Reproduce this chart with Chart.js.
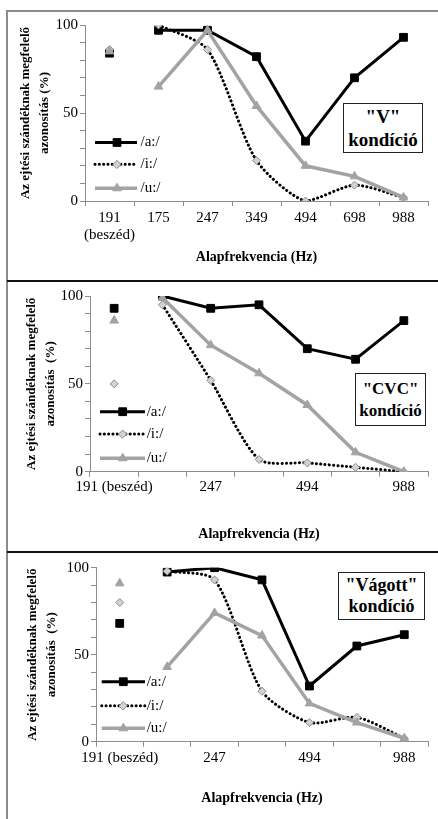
<!DOCTYPE html>
<html lang="hu">
<head>
<meta charset="utf-8">
<title>Azonosítás és alapfrekvencia</title>
<script src="https://cdn.jsdelivr.net/npm/chart.js@4.4.1/dist/chart.umd.min.js"></script>
<style>
  html, body { margin: 0; padding: 0; background: #fff; }
  #page { position: relative; width: 438px; height: 819px; overflow: hidden; background: #fff; }
  .rule { position: absolute; }
  #frameLeft { left: 6px; top: 10px; width: 2px; height: 809px; background: #8c8c8c; }
  #frameTop { left: 6px; top: 10px; width: 432px; height: 1.5px; background: #8c8c8c; }
  .sep { left: 7px; width: 431px; height: 2px; background: #111; }
  canvas { position: absolute; left: 0; }
  .cond {
    position: absolute; box-sizing: border-box; border: 1.5px solid #222; background: #fff;
    font-family: 'Liberation Serif', 'Times New Roman', serif; font-weight: bold; color: #000;
    text-align: center; display: flex; flex-direction: column; justify-content: center;
  }
</style>
</head>
<body>
<div id="page">
  <div class="rule" id="frameLeft"></div>
  <div class="rule" id="frameTop"></div>
  <div class="rule sep" style="top:280px"></div>
  <div class="rule sep" style="top:551px"></div>

  <canvas id="chartV" width="438" height="268" style="top:12px"></canvas>
  <canvas id="chartCVC" width="438" height="268" style="top:283px"></canvas>
  <canvas id="chartCut" width="438" height="265" style="top:554px"></canvas>

  <div class="cond" style="left:343px; top:103px; width:80px; height:50px; font-size:19px; line-height:23.5px;">
    <div>"V"</div><div>kondíció</div>
  </div>
  <div class="cond" style="left:355px; top:373px; width:71px; height:53px; font-size:17px; line-height:21.5px;">
    <div>"CVC"</div><div>kondíció</div>
  </div>
  <div class="cond" style="left:338px; top:572px; width:87px; height:48px; font-size:18px; line-height:21.5px;">
    <div>"Vágott"</div><div>kondíció</div>
  </div>
</div>

<script>
// F0 categories (first one is the natural speech reference)
const categories = ['191 (beszéd)', '175', '247', '349', '494', '698', '988'];
const seriesNames = ['/a:/', '/i:/', '/u:/'];

// x tick labels per panel
const ticksFull = [['191', '(beszéd)'], '175', '247', '349', '494', '698', '988'];
const ticksSparse = ['191 (beszéd)', '', '247', '', '494', '', '988'];
const yTickLabels = [0, 50, 100];

// "V" condition, values for 175..988 Hz
const V_a = [97, 97, 82, 34, 70, 93];
const V_i = [100, 86, 23, 0, 9, 2];
const V_u = [65, 97, 54, 20, 14, 2];
const V_speech = [84, 86, 85];     // /a:/, /i:/, /u:/ at 191 Hz speech

// "CVC" condition
const CVC_a = [100, 93, 95, 70, 64, 86];
const CVC_i = [95, 52, 7, 5, 2.5, 0];
const CVC_u = [99, 72, 56, 38, 11, 0];
const CVC_speech = [93, 50, 86];

// "Vágott" condition
const CUT_a = [97.5, 100, 93, 32, 55, 61.5];
const CUT_i = [98, 93, 29, 11, 14, 2];
const CUT_u = [43, 74, 61, 22, 11, 2];
const CUT_speech = [68, 80, 91];

Chart.defaults.font.family = "'Liberation Serif', 'Times New Roman', serif";
Chart.defaults.color = '#000';

const AXIS_GREY = '#8c8c8c';

const styles = [
  { borderColor: '#000', borderWidth: 3, pointStyle: 'rect', pointRadius: 5.5,
    pointBackgroundColor: '#000', pointBorderColor: '#000', pointBorderWidth: 1, order: 3 },
  { borderColor: '#000', borderWidth: 3, borderDash: [0.1, 4.2], borderCapStyle: 'round', tension: 0.25,
    pointStyle: 'rectRot', pointRadius: 4, pointBackgroundColor: '#d2d2d2', pointBorderColor: '#8c8c8c',
    pointBorderWidth: 1, order: 2 },
  { borderColor: '#a3a3a3', borderWidth: 3.5, pointStyle: 'triangle', pointRadius: 5,
    pointBackgroundColor: '#a3a3a3', pointBorderColor: '#a3a3a3', pointBorderWidth: 1, order: 1 }
];

// legend sample positions inside each plot
const legendPos = {
  chartV:   { x0: 95,    x1: 137, xm: 117,   xt: 140.5, rows: [130.5, 152.3, 176.3] },
  chartCVC: { x0: 100,   x1: 145, xm: 122.7, xt: 146.7, rows: [128.7, 151, 175.3] },
  chartCut: { x0: 101.7, x1: 145, xm: 123.3, xt: 146.7, rows: [127.7, 151.7, 174.3] }
};

const innerLegend = {
  id: 'innerLegend',
  afterDraw(chart) {
    const pos = legendPos[chart.canvas.id];
    if (!pos) return;
    const ctx = chart.ctx;
    seriesNames.forEach((name, k) => {
      const ds = chart.data.datasets[k];
      const y = pos.rows[k];
      ctx.save();
      ctx.strokeStyle = ds.borderColor;
      ctx.lineWidth = ds.borderWidth;
      ctx.setLineDash(ds.borderDash || []);
      ctx.lineCap = ds.borderCapStyle || 'butt';
      ctx.beginPath();
      ctx.moveTo(pos.x0, y);
      ctx.lineTo(pos.x1, y);
      ctx.stroke();
      ctx.setLineDash([]);
      ctx.fillStyle = ds.pointBackgroundColor;
      ctx.strokeStyle = ds.pointBorderColor;
      ctx.lineWidth = ds.pointBorderWidth;
      Chart.helpers.drawPoint(ctx, {
        pointStyle: ds.pointStyle, radius: ds.pointRadius,
        borderWidth: ds.pointBorderWidth, rotation: 0
      }, pos.xm, y);
      ctx.fillStyle = '#000';
      ctx.font = "15px 'Liberation Serif', 'Times New Roman', serif";
      ctx.textBaseline = 'middle';
      ctx.textAlign = 'left';
      ctx.fillText(name, pos.xt, y);
      ctx.restore();
    });
  }
};

function makeDatasets(lines, speech) {
  const sets = [];
  lines.forEach((vals, k) => {
    sets.push(Object.assign({ label: seriesNames[k], data: [null].concat(vals), fill: false }, styles[k]));
  });
  // speech reference points are separate, not joined to the lines
  speech.forEach((v, k) => {
    const pts = categories.map((c, j) => (j === 0 ? v : null));
    sets.push(Object.assign({ label: seriesNames[k] + ' beszéd', data: pts, showLine: false }, styles[k]));
  });
  return sets;
}

function makeChart(id, lines, speech, tickLabels, lay) {
  return new Chart(document.getElementById(id), {
    type: 'line',
    data: { labels: categories, datasets: makeDatasets(lines, speech) },
    plugins: [innerLegend],
    options: {
      responsive: false,
      animation: false,
      events: [],
      layout: { padding: { left: 0, right: 10, top: lay.top, bottom: 0 } },
      plugins: { legend: { display: false }, tooltip: { enabled: false } },
      scales: {
        x: {
          offset: true,
          afterFit: s => { s.height = lay.xHeight; },
          grid: { offset: true, drawOnChartArea: false, tickLength: 5, color: AXIS_GREY },
          border: { color: AXIS_GREY, width: 1 },
          ticks: {
            autoSkip: false, maxRotation: 0, minRotation: 0, padding: lay.tickPad,
            font: { size: 15, lineHeight: 1.1 },
            callback: (v, i) => tickLabels[i]
          },
          title: {
            display: true, text: 'Alapfrekvencia (Hz)',
            font: { size: 14, weight: 'bold' },
            padding: { top: 0, bottom: lay.titlePad }
          }
        },
        y: {
          min: 0, max: 100,
          afterFit: s => { s.width = lay.yWidth; },
          grid: { drawOnChartArea: false, tickLength: 5, color: AXIS_GREY },
          border: { color: AXIS_GREY, width: 1 },
          ticks: {
            stepSize: 10, padding: 2, autoSkip: false,
            font: { size: 15 },
            callback: v => (yTickLabels.includes(v) ? v : '')
          },
          title: {
            display: true,
            text: ['Az ejtési szándéknak megfelelő', lay.yTitle2],
            font: { size: 13, weight: 'bold', lineHeight: 1.45 },
            padding: { top: lay.yTitlePad, bottom: 0 }
          }
        }
      }
    }
  });
}

makeChart('chartV', [V_a, V_i, V_u], V_speech, ticksFull,
  { top: 13, xHeight: 79, tickPad: 4, titlePad: 14, yWidth: 85, yTitlePad: 16.6, yTitle2: 'azonosítás (%)' });
makeChart('chartCVC', [CVC_a, CVC_i, CVC_u], CVC_speech, ticksSparse,
  { top: 13, xHeight: 79.3, tickPad: 2, titlePad: 8.5, yWidth: 90, yTitlePad: 22.5, yTitle2: 'azonosítás  (%)' });
makeChart('chartCut', [CUT_a, CUT_i, CUT_u], CUT_speech, ticksSparse,
  { top: 13.7, xHeight: 77.3, tickPad: 3, titlePad: 12, yWidth: 96, yTitlePad: 23.7, yTitle2: 'azonosítás  (%)' });
</script>
</body>
</html>
